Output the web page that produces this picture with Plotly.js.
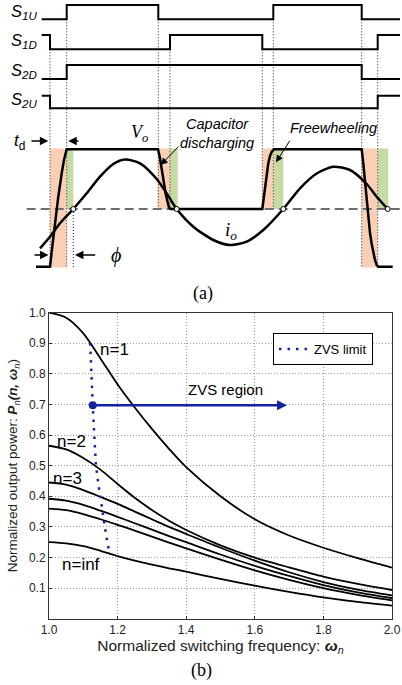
<!DOCTYPE html>
<html><head><meta charset="utf-8">
<script src="https://cdn.plot.ly/plotly-3.0.1.min.js"></script>
<style>html,body{margin:0;padding:0;background:#fff}#chart{width:402px;height:685px}</style>
</head><body><div id="chart"></div>
<script>
// ===== (b) Normalized output power vs normalized switching frequency =====
const omegaN   = [1.0, 1.05, 1.1, 1.15, 1.2, 1.25, 1.3, 1.35, 1.4, 1.5, 1.6, 1.7, 1.8, 1.9, 2.0];
const powerN1  = [1.0, 0.983, 0.932, 0.85, 0.765, 0.69, 0.62, 0.555, 0.495, 0.40, 0.325, 0.272, 0.232, 0.198, 0.167];
const powerN2  = [0.565, 0.553, 0.525, 0.487, 0.44, 0.395, 0.355, 0.32, 0.29, 0.24, 0.20, 0.168, 0.138, 0.114, 0.094];
const powerN3  = [0.445, 0.438, 0.42, 0.398, 0.375, 0.35, 0.325, 0.30, 0.277, 0.232, 0.19, 0.152, 0.12, 0.095, 0.076];
const powerN4  = [0.392, 0.386, 0.372, 0.353, 0.333, 0.312, 0.291, 0.27, 0.25, 0.21, 0.173, 0.14, 0.11, 0.086, 0.067];
const powerN5  = [0.36, 0.355, 0.342, 0.325, 0.307, 0.288, 0.268, 0.249, 0.23, 0.193, 0.158, 0.127, 0.10, 0.078, 0.06];
const powerInf = [0.25, 0.246, 0.237, 0.222, 0.205, 0.19, 0.177, 0.165, 0.154, 0.13, 0.108, 0.088, 0.07, 0.055, 0.043];
const zvsOmega = [1.12, 1.123, 1.1275, 1.132, 1.137, 1.144, 1.15, 1.157, 1.163, 1.17, 1.178];
const zvsPower = [0.9, 0.8, 0.697, 0.6, 0.5, 0.44, 0.39, 0.34, 0.30, 0.25, 0.208];
const zvsStartOmega = [1.1275];
const zvsStartPower = [0.697];
const zvsRegionEndOmega = 1.694;
const xTickVals = [1.0, 1.2, 1.4, 1.6, 1.8, 2.0];
const yTickVals = [0.1, 0.2, 0.3, 0.4, 0.5, 0.6, 0.7, 0.8, 0.9, 1.0];
const curveLabels      = ['n=1', 'n=2', 'n=3', 'n=inf'];
const curveLabelOmega  = [1.192, 1.067, 1.054, 1.093];
const curveLabelPower  = [0.88, 0.58, 0.458, 0.176];

// ===== (a) timing diagram (time axis and levels in diagram units) =====
const gateNames = ['S<sub>1U</sub>', 'S<sub>1D</sub>', 'S<sub>2D</sub>', 'S<sub>2U</sub>'];
const gateLabelLevel = [12, 41, 71, 100];
const s1uT = [41.7, 66.7, 158.3, 273.3, 361.7, 400];
const s1uL = [19.3, 5, 19.3, 5, 19.3, 19.3];
const s1dT = [41.7, 50, 170, 262.3, 377.7, 400];
const s1dL = [35, 49.3, 35, 49.3, 35, 35];
const s2dT = [41.7, 66.7, 361.7, 400];
const s2dL = [79, 65, 79, 79];
const s2uT = [41.7, 50, 377.7, 400];
const s2uL = [95.7, 108.3, 95.7, 95.7];
const voT = [36, 50, 52.3, 55, 58.3, 61.7, 64, 66.7, 158, 159.7, 161.5, 163.5, 165.5, 167.5, 169, 170.7,
             262.3, 263.5, 265, 266.5, 268.3, 270, 271.7, 274, 361.7, 363.3, 365, 366.7, 368.3, 370, 371.7,
             373.3, 375, 376.7, 378.3, 392.7];
const voL = [266.7, 266.7, 246.7, 223, 196.7, 173.3, 160, 149.3, 149.3, 156.7, 166.7, 180, 193.3, 203, 207.5, 209,
             209, 200, 186.7, 173, 163.3, 156, 151.7, 149.3, 149.3, 163.3, 183, 203.3, 220, 233, 244,
             253.3, 260, 265, 266.7, 266.7];
const ioT = [40, 50, 60, 73.3, 86.7, 100, 113.3, 125, 140, 156.7, 166.7, 176.7, 193.3, 213.3, 230, 246.7,
             263.3, 283.3, 300, 316.7, 333.3, 350, 366.7, 376.7, 387.7];
const ioL = [248.3, 236.7, 223.3, 209, 193.3, 176.7, 164, 159.5, 163.3, 179, 193.5, 209, 226.7, 240, 245, 241.7,
             230, 209, 188.3, 173.5, 166.7, 170, 184, 196.7, 209];
const zeroCrossT = [73.3, 176.7, 283.3, 387.7];
const zeroLevel = 209;
const zeroLineT = [26.7, 402];
const deadStart = [50, 157.7, 262.3, 361.7];
const deadEnd   = [66.7, 170, 273.3, 377.7];
const deadBottom = [267.5, 209, 209, 267.5];
const freeEnd   = [73.3, 177.7, 283.3, 388.3];
const highLevel = 148.5;
const edgeT      = [50, 66.7, 158.3, 170, 262.3, 273.3, 361.7, 377.7, 73.3];
const edgeTop    = [49.3, 19.3, 19.3, 49.3, 49.3, 19.3, 19.3, 49.3, 209];
const edgeBottom = [267.5, 267.5, 209, 209, 209, 209, 267.5, 267.5, 267.5];

const SANS = 'Arial, "Liberation Sans", sans-serif';
const SERIF = '"Times New Roman", "Liberation Serif", serif';
const BLUE = '#14249e';
const traces = [];
const A = {xaxis: 'x2', yaxis: 'y2', hoverinfo: 'skip', showlegend: false};

function rect(x0, x1, y0, y1, color) {
  traces.push(Object.assign({type: 'scatter', mode: 'lines', x: [x0, x1, x1, x0, x0], y: [y0, y0, y1, y1, y0],
    fill: 'toself', fillcolor: color, line: {width: 0}}, A));
}
for (let i = 0; i < deadStart.length; i++) {
  rect(deadStart[i], deadEnd[i], highLevel, deadBottom[i], '#f9d0b5');
  rect(deadEnd[i], freeEnd[i], highLevel, zeroLevel, '#c6daa3');
}
const ex = [], ey = [];
edgeT.forEach((t, i) => { ex.push(t, t, null); ey.push(edgeTop[i], edgeBottom[i], null); });
traces.push(Object.assign({type: 'scatter', mode: 'lines', x: ex, y: ey, line: {color: '#222', width: 1, dash: '1px,2px'}}, A));
traces.push(Object.assign({type: 'scatter', mode: 'lines', x: zeroLineT, y: [zeroLevel, zeroLevel],
  line: {color: '#6e6e6e', width: 2, dash: '9px,5px'}}, A));
[[s1uT, s1uL], [s1dT, s1dL], [s2dT, s2dL], [s2uT, s2uL]].forEach(([t, l]) => {
  traces.push(Object.assign({type: 'scatter', mode: 'lines', x: t, y: l, line: {color: '#000', width: 2, shape: 'hv'}}, A));
});
traces.push(Object.assign({type: 'scatter', mode: 'lines', x: voT, y: voL, line: {color: '#000', width: 2.5}}, A));
traces.push(Object.assign({type: 'scatter', mode: 'lines', x: ioT, y: ioL, line: {color: '#000', width: 2.5, shape: 'spline', smoothing: 0.7}}, A));
traces.push(Object.assign({type: 'scatter', mode: 'markers', x: zeroCrossT, y: zeroCrossT.map(() => zeroLevel),
  marker: {size: 5, color: '#fff', line: {color: '#000', width: 1}}}, A));

// (b) traces
[powerN1, powerN2, powerN3, powerN4, powerN5, powerInf].forEach(p => {
  traces.push({type: 'scatter', mode: 'lines', x: omegaN, y: p, line: {color: '#000', width: 1.8, shape: 'spline', smoothing: 0.8},
    hoverinfo: 'skip', showlegend: false});
});
traces.push({type: 'scatter', mode: 'lines', name: 'ZVS limit', x: zvsOmega, y: zvsPower,
  line: {color: BLUE, width: 2.5, dash: '2.5px,6px'}, hoverinfo: 'skip'});
traces.push({type: 'scatter', mode: 'markers', x: zvsStartOmega, y: zvsStartPower,
  marker: {size: 8, color: BLUE}, hoverinfo: 'skip', showlegend: false});

const ann = [];
gateNames.forEach((g, i) => ann.push({xref: 'x2', yref: 'y2', x: 9, y: gateLabelLevel[i], xanchor: 'left', yanchor: 'middle',
  text: '<i>' + g.replace('<sub>', '</i><sub><i>').replace('</sub>', '</i></sub>'), showarrow: false,
  font: {family: SANS, size: 16.5, color: '#000'}}));
function arrow(x0, y0, x1, y1, w, s) {
  ann.push({xref: 'x2', yref: 'y2', axref: 'x2', ayref: 'y2', x: x1, y: y1, ax: x0, ay: y0, text: '',
    showarrow: true, arrowhead: 2, arrowsize: s, arrowwidth: w, arrowcolor: '#000', standoff: 0, startstandoff: 0});
}
function txt(x, y, t, f, size, extra) {
  ann.push(Object.assign({xref: 'x2', yref: 'y2', x: x, y: y, text: t, showarrow: false,
    font: {family: f, size: size, color: '#000'}}, extra || {}));
}
txt(19, 142, '<i>t</i><sub>d</sub>', SANS, 17);
arrow(30, 141, 48.3, 141, 1.3, 1.3);
arrow(80, 141, 68.3, 141, 1.3, 1.3);
txt(139, 133, '<i>V</i><sub><i>o</i></sub>', SERIF, 18);
txt(216.7, 133, '<i>Capacitor</i><br><i>discharging</i>', SANS, 14.5);
arrow(180, 145, 160.7, 165, 1, 1.4);
txt(333, 128, '<i>Freewheeling</i>', SANS, 14.5);
arrow(290.7, 139.3, 276, 162.3, 1, 1.4);
txt(231, 231, '<i>i</i><sub><i>o</i></sub>', SERIF, 19);
txt(116, 255, '<i>ϕ</i>', SERIF, 20);
arrow(33, 255, 48.5, 255, 1.3, 1.3);
arrow(96.7, 255, 75, 255, 1.3, 1.3);
txt(202.5, 293, '(a)', SERIF, 18);

curveLabels.forEach((c, i) => ann.push({xref: 'x', yref: 'y', x: curveLabelOmega[i], y: curveLabelPower[i], text: c,
  showarrow: false, font: {family: SANS, size: 17, color: '#000'}}));
ann.push({xref: 'x', yref: 'y', x: 1.5136, y: 0.75, text: 'ZVS region', showarrow: false, font: {family: SANS, size: 15, color: '#000'}});
ann.push({xref: 'x', yref: 'y', axref: 'x', ayref: 'y', x: zvsRegionEndOmega, y: zvsStartPower[0], ax: zvsStartOmega[0], ay: zvsStartPower[0],
  text: '', showarrow: true, arrowhead: 2, arrowsize: 0.8, arrowwidth: 2.5, arrowcolor: BLUE, standoff: 0, startstandoff: 0});
ann.push({xref: 'paper', yref: 'paper', x: 201 / 402, y: 1 - 670 / 685, xanchor: 'center', yanchor: 'middle', text: '(b)', showarrow: false,
  font: {family: SERIF, size: 18, color: '#000'}});

const layout = {
  width: 402, height: 685, margin: {l: 0, r: 0, t: 0, b: 0},
  paper_bgcolor: '#fff', plot_bgcolor: 'rgba(0,0,0,0)', hovermode: false,
  font: {family: SANS, color: '#222'},
  xaxis: {domain: [49 / 402, 392 / 402], range: [1.0, 2.0], tickvals: xTickVals, tickformat: '.1f',
    showgrid: true, gridcolor: '#9a9a9a', griddash: '1px,2px', gridwidth: 1, zeroline: false,
    showline: true, mirror: true, linecolor: '#333', linewidth: 1, ticks: 'inside', ticklen: 3, tickcolor: '#333',
    tickfont: {family: SANS, size: 12, color: '#222'},
    title: {text: 'Normalized switching frequency: <b><i>ω</i></b><sub><i>n</i></sub>', standoff: 2,
      font: {family: SANS, size: 15.5, color: '#222'}}},
  yaxis: {domain: [1 - 618.8 / 685, 1 - 312.5 / 685], range: [0, 1.0], tickvals: yTickVals, tickformat: '.1f',
    showgrid: true, gridcolor: '#9a9a9a', griddash: '1px,2px', gridwidth: 1, zeroline: false,
    showline: true, mirror: true, linecolor: '#333', linewidth: 1, ticks: 'inside', ticklen: 3, tickcolor: '#333',
    tickfont: {family: SANS, size: 12, color: '#222'},
    title: {text: 'Normalized output power: <b><i>P</i></b><sub><i>n</i></sub><b><i>(n, ω</i></b><sub><i>n</i></sub>)', standoff: 8,
      font: {family: SANS, size: 13.5, color: '#222'}}},
  xaxis2: {domain: [0, 1], range: [0, 402], visible: false, anchor: 'y2'},
  yaxis2: {domain: [1 - 300 / 685, 1], range: [300, 0], visible: false, anchor: 'x2'},
  showlegend: true,
  legend: {x: 273 / 402, y: 1 - 333 / 685, xanchor: 'left', yanchor: 'top', bgcolor: '#fff',
    bordercolor: '#000', borderwidth: 1, font: {family: SANS, size: 13, color: '#000'}},
  annotations: ann
};
Plotly.newPlot('chart', traces, layout, {staticPlot: true, displayModeBar: false});
</script></body></html>
